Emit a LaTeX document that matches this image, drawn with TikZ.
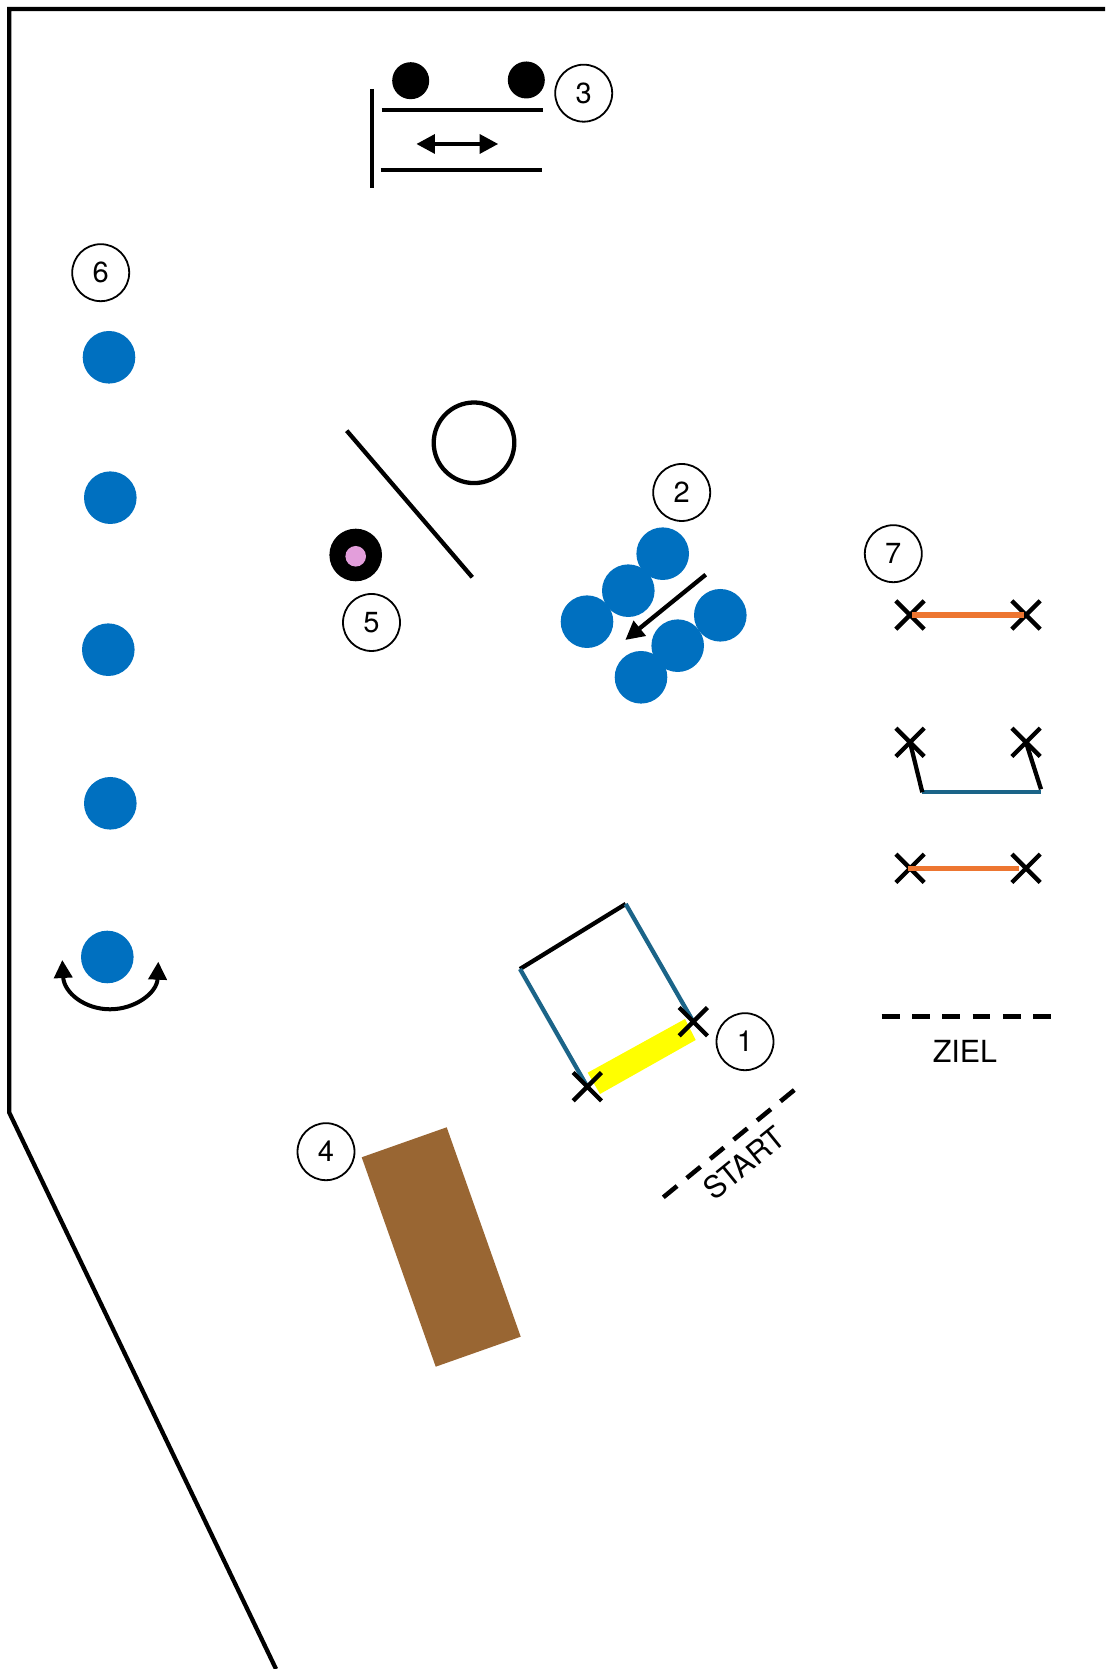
\documentclass[tikz,border=0pt]{standalone}
\usepackage{fontspec}
\setmainfont{TeX Gyre Heros}
\usetikzlibrary{arrows.meta, shapes.misc}
\tikzset{
  numcircle/.style={draw, circle, line width=1.3pt, inner sep=0pt, minimum size=0.57in, font=\fontsize{21}{25}\selectfont},
  cone/.style={circle, fill=coneblue, inner sep=0pt, minimum size=0.526in},
  blackball/.style={circle, fill=black, inner sep=0pt, minimum size=0.37in},
  markx/.style={draw, cross out, line width=3.1pt, inner sep=0pt, minimum size=0.24in},
  wall/.style={line width=3.1pt},
  blueline/.style={line width=3.1pt, draw=sideblue},
  orangeline/.style={line width=3.9pt, draw=runorange},
  startline/.style={line width=3.3pt, dash pattern=on 0.178in off 0.125in},
  labeltext/.style={font=\fontsize{22}{26}\selectfont, inner sep=0pt},
  bigtip/.style={line width=3.1pt, -{Triangle[length=13.5pt,width=13.5pt]}},
}
\definecolor{coneblue}{HTML}{0070C0}
\definecolor{sideblue}{HTML}{1B6488}
\definecolor{runorange}{HTML}{ED7631}
\definecolor{boxbrown}{HTML}{996633}
\definecolor{pinkdot}{HTML}{E39EDB}
\definecolor{startyellow}{HTML}{FFFF00}
\begin{document}
\begin{tikzpicture}[x=1in,y=1in]
\useasboundingbox (0,0) rectangle (11.05,16.69);
\draw[wall] (11.05,16.60) -- (0.093,16.60) -- (0.093,5.563) -- (2.76,0);

\node[blackball] (ballA) at (4.107,15.883) {};
\node[blackball] (ballB) at (5.263,15.890) {};
\node[numcircle] (numC) at (5.837,15.758) {3};
\coordinate (wallTop) at (3.717,15.80);
\coordinate (wallBot) at (3.717,14.81);
\draw[wall] (wallTop) -- (wallBot);
\coordinate (railAl) at (3.817,15.592);
\coordinate (railAr) at (5.433,15.592);
\coordinate (railBl) at (3.807,14.990);
\coordinate (railBr) at (5.423,14.990);
\draw[wall] (railAl) -- (railAr);
\draw[wall] (railBl) -- (railBr);
\coordinate (swingL) at (4.163,15.25);
\coordinate (swingR) at (4.983,15.25);
\draw[line width=3.1pt, {Triangle[length=13.5pt,width=13.5pt]}-{Triangle[length=13.5pt,width=13.5pt]}] (swingL) -- (swingR);

\node[numcircle] (numF) at (1.007,13.963) {6};
\node[cone] (coneA) at (1.090,13.117) {};
\node[cone] (coneB) at (1.103,11.713) {};
\node[cone] (coneC) at (1.083,10.193) {};
\node[cone] (coneD) at (1.103,8.657) {};
\node[cone] (coneE) at (1.073,7.120) {};
\coordinate (turnL) at (0.623,7.090);
\coordinate (turnM) at (1.100,6.597);
\coordinate (turnR) at (1.583,7.073);
\draw[line width=2.9pt, {Triangle[length=13pt,width=13pt]}-{Triangle[length=13pt,width=13pt]}] (turnL) .. controls (0.640,6.760) and (0.850,6.597) .. (turnM) .. controls (1.350,6.597) and (1.570,6.760) .. (turnR);

\node[circle, draw, line width=3.1pt, inner sep=0pt, minimum size=0.806in] (hoop) at (4.740,12.262) {};
\coordinate (plankA) at (3.467,12.383);
\coordinate (plankB) at (4.723,10.917);
\draw[wall] (plankA) -- (plankB);
\node[circle, fill=black, inner sep=0pt, minimum size=0.526in] (spotOut) at (3.557,11.140) {};
\node[circle, fill=pinkdot, inner sep=0pt, minimum size=0.206in] (spotIn) at (3.557,11.127) {};
\node[numcircle] (numE) at (3.715,10.465) {5};

\node[numcircle] (numB) at (6.817,11.765) {2};
\node[cone] (crowdA) at (6.627,11.153) {};
\node[cone] (crowdB) at (6.283,10.783) {};
\node[cone] (crowdC) at (5.870,10.473) {};
\node[cone] (crowdD) at (7.203,10.537) {};
\node[cone] (crowdE) at (6.777,10.233) {};
\node[cone] (crowdF) at (6.410,9.917) {};
\coordinate (runFrom) at (7.057,10.943);
\coordinate (runTo) at (6.253,10.290);
\draw[bigtip] (runFrom) -- (runTo);

\node[numcircle] (numG) at (8.933,11.153) {7};
\node[markx] (mA) at (9.10,10.54) {};
\node[markx] (mB) at (10.26,10.54) {};
\node[markx] (mC) at (9.10,9.267) {};
\node[markx] (mD) at (10.26,9.267) {};
\node[markx] (mE) at (9.10,8.007) {};
\node[markx] (mF) at (10.26,8.007) {};
\coordinate (topL) at (9.123,10.54);
\coordinate (topR) at (10.24,10.54);
\coordinate (lowL) at (9.08,8.007);
\coordinate (lowR) at (10.19,8.007);
\coordinate (midL) at (9.223,8.767);
\coordinate (midR) at (10.41,8.767);
\coordinate (midRup) at (10.41,8.797);
\draw[orangeline] (topL) -- (topR);
\draw[orangeline] (lowL) -- (lowR);
\draw[blueline] (midL) -- (midR);
\draw[wall] (midL) -- (mC.center);
\draw[wall] (midRup) -- (mD.center);

\fill[startyellow] (5.877,5.963) -- (6.850,6.500) -- (6.957,6.290) -- (6.000,5.750) -- cycle;
\coordinate (boxTop) at (6.257,7.650);
\coordinate (boxLeft) at (5.200,7.000);
\coordinate (boxBot) at (5.873,5.823);
\coordinate (boxRight) at (6.933,6.473);
\draw[wall] (boxLeft) -- (boxTop);
\draw[blueline] (boxLeft) -- (boxBot);
\draw[blueline] (boxTop) -- (boxRight);
\node[markx] (mG) at (boxBot) {};
\node[markx] (mH) at (boxRight) {};
\node[numcircle] (numA) at (7.450,6.273) {1};

\coordinate (startA) at (6.633,4.717);
\coordinate (startB) at (7.943,5.790);
\draw[startline] (startA) -- (startB);
\node[labeltext, rotate=39] (startText) at (7.443,5.063) {START};
\coordinate (finishA) at (8.817,6.523);
\coordinate (finishB) at (10.507,6.523);
\draw[startline] (finishA) -- (finishB);
\node[labeltext] (finishText) at (9.650,6.180) {ZIEL};

\fill[boxbrown] (3.617,5.117) -- (4.467,5.417) -- (5.207,3.323) -- (4.357,3.023) -- cycle;
\node[numcircle] (numD) at (3.260,5.173) {4};
\end{tikzpicture}
\end{document}
